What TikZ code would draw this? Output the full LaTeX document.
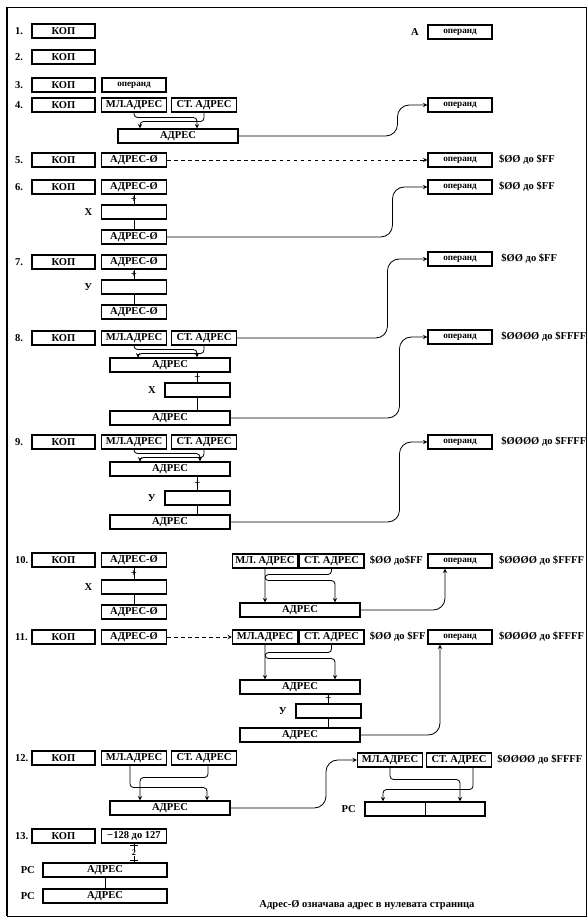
\documentclass[tikz,border=0pt]{standalone}
\usepackage{fontspec}
\setmainfont{Liberation Serif}
\usetikzlibrary{positioning}

\begin{document}
\begin{tikzpicture}[
    x=0.03cm, y=-0.03cm,
    box/.style={
	draw,
	line width=0.9pt,
	inner sep=0pt,
	minimum height=0.42cm,
	font=\bfseries\fontsize{9}{10}\selectfont
    },
    kop/.style={box, minimum width=1.89cm},
    half/.style={box, minimum width=1.95cm},
    wide/.style={box, minimum width=3.6cm},
    opbox/.style={box, minimum width=1.92cm, font=\bfseries\fontsize{7.8}{8}\selectfont},
    lbl/.style={font=\bfseries\fontsize{9}{10}\selectfont},
    link/.style={line width=0.7pt},
    cross/.style={->, line width=0.7pt, rounded corners=3pt},
    feed/.style={->, line width=0.7pt, rounded corners=10pt},
    >=stealth
]
	\useasboundingbox (0,0) rectangle (588,921);
	\draw[line width=0.6pt] (7,7) rectangle (586,916);
	\draw[line width=2pt] (7,7) -- (7,916);

	% 1. - 3.
	\node[lbl, anchor=west] (n1) at (11,31) {1.};
	\node[kop] (kop1) at (63.5,31) {КОП};
	\node[opbox] (opA) at (460,32) {операнд};
	\node[lbl, left=4pt of opA] (regA) {A};

	\node[lbl, anchor=west] (n2) at (11,57) {2.};
	\node[kop] (kop2) at (63.5,57) {КОП};

	\node[lbl, anchor=west] (n3) at (11,85) {3.};
	\node[kop] (kop3) at (63.5,85) {КОП};
	\node[opbox] (op3) at (134,85) {операнд};

	% 4.
	\node[lbl, anchor=west] (n4) at (11,105) {4.};
	\node[kop] (kop4) at (63.5,105) {КОП};
	\node[half] (ml4) at (134,105) {МЛ.АДРЕС};
	\node[half] (st4) at (204,105) {СТ. АДРЕС};
	\node[wide] (adr4) at (178,136) {АДРЕС};
	\node[opbox] (op4) at (460,105) {операнд};

	\draw[cross] (ml4.south) -- ++(0,5) -| ([shift={(19,0)}]adr4.north);
	\draw[cross] (st4.south) -- ++(0,9) -| ([shift={(-38,0)}]adr4.north);
	\draw[feed] (adr4.east) -| ([shift={(-30,0)}]op4.west) -- (op4.west);

	% 5.
	\node[lbl, anchor=west] (n5) at (11,160) {5.};
	\node[kop] (kop5) at (63.5,160) {КОП};
	\node[half] (adr5) at (134,160) {АДРЕС-Ø};
	\node[opbox] (op5) at (460,160) {операнд};
	\node[lbl, right=2pt of op5] (rng5) {\$ØØ до \$FF};
	\draw[->, dashed, link] (adr5.east) -- (op5.west);

	% 6.
	\node[lbl, anchor=west] (n6) at (11,187) {6.};
	\node[kop] (kop6) at (63.5,187) {КОП};
	\node[half] (adr6) at (134,187) {АДРЕС-Ø};
	\node[half] (x6) at (134,212) {};
	\node[lbl, left=4pt of x6] (lx6) {X};
	\node[half] (adr6b) at (134,237) {АДРЕС-Ø};
	\node[opbox] (op6) at (460,187) {операнд};
	\node[lbl, right=2pt of op6] (rng6) {\$ØØ до \$FF};

	\draw[link] (adr6) -- (x6) node[midway, lbl] {+};
	\draw[link] (x6) -- (adr6b);
	\draw[feed] (adr6b.east) -| ([shift={(-35,0)}]op6.west) -- (op6.west);

	% 7.
	\node[lbl, anchor=west] (n7) at (11,262) {7.};
	\node[kop] (kop7) at (63.5,262) {КОП};
	\node[half] (adr7) at (134,262) {АДРЕС-Ø};
	\node[half] (y7) at (134,287) {};
	\node[lbl, left=4pt of y7] (ly7) {У};
	\node[half] (adr7b) at (134,312) {АДРЕС-Ø};
	\node[opbox] (op7) at (460,259) {операнд};
	\node[lbl, right=4pt of op7] (rng7) {\$ØØ до \$FF};

	\draw[link] (adr7) -- (y7) node[midway, lbl] {+};
	\draw[link] (y7) -- (adr7b);

	% 8.
	\node[lbl, anchor=west] (n8) at (11,338) {8.};
	\node[kop] (kop8) at (63.5,338) {КОП};
	\node[half] (ml8) at (134,338) {МЛ.АДРЕС};
	\node[half] (st8) at (204,338) {СТ. АДРЕС};
	\node[wide] (adr8) at (170,365) {АДРЕС};
	\node[half] (x8) at (197.5,390) {};
	\node[lbl, left=4pt of x8] (lx8) {X};
	\node[wide] (adr8b) at (170,418) {АДРЕС};
	\node[opbox] (op8) at (460,337) {операнд};
	\node[lbl, right=4pt of op8] (rng8) {\$ØØØØ до \$FFFF};

	\draw[cross] (ml8.south) -- ++(0,4) -| ([shift={(27,0)}]adr8.north);
	\draw[cross] (st8.south) -- ++(0,8) -| ([shift={(-32,0)}]adr8.north);
	\draw[link] (x8.north |- adr8.south) -- (x8.north) node[midway, lbl] {+};
	\draw[link] (x8.south) -- (x8.south |- adr8b.north);
	\draw[feed] (st8.east) -| ([shift={(-40,0)}]op7.west) -- (op7.west);
	\draw[feed] (adr8b.east) -| ([shift={(-28,0)}]op8.west) -- (op8.west);

	% 9.
	\node[lbl, anchor=west] (n9) at (11,442) {9.};
	\node[kop] (kop9) at (63.5,442) {КОП};
	\node[half] (ml9) at (134,442) {МЛ.АДРЕС};
	\node[half] (st9) at (204,442) {СТ. АДРЕС};
	\node[wide] (adr9) at (170,469) {АДРЕС};
	\node[half] (y9) at (197.5,498) {};
	\node[lbl, left=4pt of y9] (ly9) {У};
	\node[wide] (adr9b) at (170,522) {АДРЕС};
	\node[opbox] (op9) at (460,442) {операнд};
	\node[lbl, right=4pt of op9] (rng9) {\$ØØØØ до \$FFFF};

	\draw[cross] (ml9.south) -- ++(0,4) -| ([shift={(30,0)}]adr9.north);
	\draw[cross] (st9.south) -- ++(0,8) -| ([shift={(-30,0)}]adr9.north);
	\draw[link] (y9.north |- adr9.south) -- (y9.north) node[midway, lbl] {+};
	\draw[link] (y9.south) -- (y9.south |- adr9b.north);
	\draw[feed] (adr9b.east) -| ([shift={(-28,0)}]op9.west) -- (op9.west);

	% 10.
	\node[lbl, anchor=west] (n10) at (11,560) {10.};
	\node[kop] (kop10) at (63.5,560) {КОП};
	\node[half] (adr10) at (134,560) {АДРЕС-Ø};
	\node[half] (x10) at (134,587) {};
	\node[lbl, left=4pt of x10] (lx10) {X};
	\node[half] (adr10b) at (134,612) {АДРЕС-Ø};
	\node[half] (ml10) at (265,561) {МЛ. АДРЕС};
	\node[half] (st10) at (331.5,561) {СТ. АДРЕС};
	\node[lbl, right=1pt of st10] (zp10) {\$ØØ до\$FF};
	\node[opbox] (op10) at (460,561) {операнд};
	\node[lbl, right=2pt of op10] (rng10) {\$ØØØØ до \$FFFF};
	\node[wide] (adr10r) at (300,610) {АДРЕС};

	\draw[link] (adr10) -- (x10) node[midway, lbl] {+};
	\draw[link] (x10) -- (adr10b);
	\draw[cross] (ml10.south) -- ++(0,12) -| ([shift={(35,0)}]adr10r.north);
	\draw[cross] (st10.south) -- ++(0,6) -| ([shift={(-35,0)}]adr10r.north);
	\draw[feed] (adr10r.east) -| ([shift={(-15,0)}]op10.south);

	% 11.
	\node[lbl, anchor=west] (n11) at (11,637) {11.};
	\node[kop] (kop11) at (63.5,637) {КОП};
	\node[half] (adr11) at (134,637) {АДРЕС-Ø};
	\node[half] (ml11) at (265,637) {МЛ.АДРЕС};
	\node[half] (st11) at (331.5,637) {СТ. АДРЕС};
	\node[lbl, right=1pt of st11] (zp11) {\$ØØ до \$FF};
	\node[opbox] (op11) at (460,637) {операнд};
	\node[lbl, right=2pt of op11] (rng11) {\$ØØØØ до \$FFFF};
	\node[wide] (adr11r) at (300,687) {АДРЕС};
	\node[half] (y11) at (328.5,711) {};
	\node[lbl, left=4pt of y11] (ly11) {У};
	\node[wide] (adr11rb) at (300,735) {АДРЕС};

	\draw[->, dashed, link] (adr11.east) -- (ml11.west);
	\draw[cross] (ml11.south) -- ++(0,14) -| ([shift={(35,0)}]adr11r.north);
	\draw[cross] (st11.south) -- ++(0,8) -| ([shift={(-35,0)}]adr11r.north);
	\draw[link] (y11.north |- adr11r.south) -- (y11.north) node[midway, lbl] {+};
	\draw[link] (y11.south) -- (y11.south |- adr11rb.north);
	\draw[feed] (adr11rb.east) -| ([shift={(-20,0)}]op11.south);

	% 12.
	\node[lbl, anchor=west] (n12) at (11,758) {12.};
	\node[kop] (kop12) at (63.5,758) {КОП};
	\node[half] (ml12) at (134,758) {МЛ.АДРЕС};
	\node[half] (st12) at (204,758) {СТ. АДРЕС};
	\node[wide] (adr12) at (170,808) {АДРЕС};
	\node[half] (ml12r) at (390,760) {МЛ.АДРЕС};
	\node[half] (st12r) at (459,760) {СТ. АДРЕС};
	\node[lbl, right=1pt of st12r] (rng12) {\$ØØØØ до \$FFFF};
	\node[wide] (pc12) at (425,809) {};
	\node[lbl, left=4pt of pc12] (lpc12) {PC};

	\draw[link] (pc12.north) -- (pc12.south);
	\draw[cross] ([shift={(-4,0)}]ml12.south) -- ++(0,22) -| ([shift={(37,0)}]adr12.north);
	\draw[cross] ([shift={(4,0)}]st12.south) -- ++(0,12) -| ([shift={(-30,0)}]adr12.north);
	\draw[feed] (adr12.east) -| ([shift={(-31,0)}]ml12r.west) -- (ml12r.west);
	\draw[cross] (ml12r.south) -- ++(0,12) -| ([shift={(35,0)}]pc12.north);
	\draw[cross] ([shift={(14,0)}]st12r.south) -- ++(0,22) -| ([shift={(-42,0)}]pc12.north);

	% 13.
	\node[lbl, anchor=west] (n13) at (11,836) {13.};
	\node[kop] (kop13) at (63.5,836) {КОП};
	\node[half] (rel13) at (134,836) {−128 до 127};
	\node[box, minimum width=3.72cm] (pc13) at (105,870) {АДРЕС};
	\node[lbl, left=3pt of pc13] (lpc13) {PC};
	\node[box, minimum width=3.72cm] (pc13b) at (105,896) {АДРЕС};
	\node[lbl, left=3pt of pc13b] (lpc13b) {PC};

	\draw[link] (rel13.south) -- (rel13.south |- pc13.north)
	    coordinate[pos=0.12] (t1) coordinate[pos=0.88] (t2)
	    node[pos=0.5, inner sep=0.3pt, fill=white, font=\bfseries\fontsize{7}{7}\selectfont] (two) {2};
	\draw[link] ([xshift=-3pt]t1) -- ([xshift=3pt]t1);
	\draw[link] ([xshift=-3pt]t2) -- ([xshift=3pt]t2);
	\draw[link] (pc13) -- (pc13b);

	\node[lbl] (note) at (367,905) {Адрес-Ø означава адрес в нулевата страница};
\end{tikzpicture}
\end{document}
